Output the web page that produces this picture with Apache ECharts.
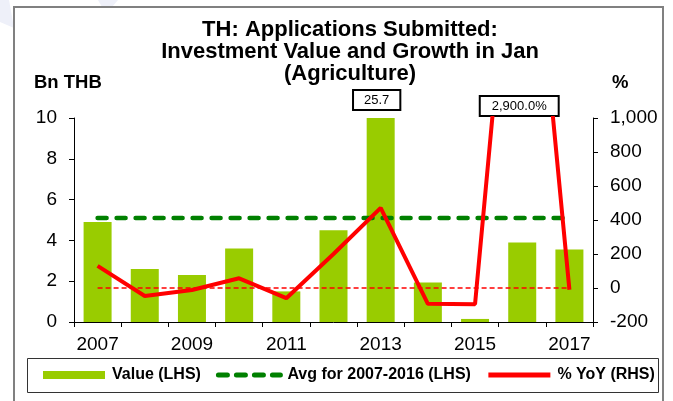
<!DOCTYPE html>
<html>
<head>
<meta charset="utf-8">
<script src="https://cdn.jsdelivr.net/npm/echarts@6/dist/echarts.min.js"></script>
<style>
  html, body { margin: 0; padding: 0; background: #fff; }
  #chart { width: 673px; height: 401px; }
</style>
</head>
<body>
<div id="chart"></div>
<script>
  // 年份
  var years = ['2007', '2008', '2009', '2010', '2011', '2012', '2013', '2014', '2015', '2016', '2017'];
  // Value (LHS), Bn THB
  var valueLHS = [4.9, 2.6, 2.3, 3.6, 1.5, 4.5, 25.7, 1.94, 0.15, 3.9, 3.55];
  // Avg for 2007-2016 (LHS)
  var avgLHS = [5.1, 5.1, 5.1, 5.1, 5.1, 5.1, 5.1, 5.1, 5.1, 5.1, 5.1];
  // % YoY (RHS)
  var yoyRHS = [130, -47, -12, 57, -60, 200, 471, -93, -95, 2900, -10];
  // zero reference line (RHS)
  var zeroRHS = [0, 0, 0, 0, 0, 0, 0, 0, 0, 0, 0];
  var leftTicks = { min: 0, max: 10, interval: 2 };
  var rightTicks = { min: -200, max: 1000, interval: 200 };

  var font = '"Liberation Sans", Arial, sans-serif';
  var myChart = echarts.init(document.getElementById('chart'));

  // legend: hide the symbol that line series put in the middle of the icon
  var noSymbol = { color: 'rgba(0,0,0,0)', borderWidth: 0 };

  myChart.setOption({
    backgroundColor: '#fff',
    animation: false,
    textStyle: { fontFamily: font, color: '#000' },
    title: [{
      text: 'TH: Applications Submitted:\nInvestment Value and Growth in Jan\n(Agriculture)',
      left: 350,
      textAlign: 'center',
      top: 19,
      padding: 0,
      textStyle: { fontSize: 22, fontWeight: 'bold', lineHeight: 22, color: '#000', fontFamily: font }
    }, {
      text: 'Bn THB',
      left: 34,
      top: 73,
      padding: 0,
      textStyle: { fontSize: 18.5, fontWeight: 'bold', color: '#000', fontFamily: font }
    }, {
      text: '%',
      left: 612,
      top: 73,
      padding: 0,
      textStyle: { fontSize: 18.5, fontWeight: 'bold', color: '#000', fontFamily: font }
    }],
    graphic: [{
      type: 'polygon',
      shape: { points: [[0, 0], [9, 0], [14, 28], [0, 22]] },
      style: { fill: '#eef0f9' },
      silent: true,
      z: -10
    }, {
      type: 'polygon',
      shape: { points: [[98, 0], [118, 0], [112, 7], [102, 7]] },
      style: { fill: '#eef0f9' },
      silent: true,
      z: -10
    }, {
      type: 'rect',
      shape: { x: 14, y: 7, width: 649, height: 430 },
      style: { fill: null, stroke: '#808080', lineWidth: 2 },
      silent: true
    }, {
      type: 'rect',
      shape: { x: 27.5, y: 358.5, width: 631, height: 34 },
      style: { fill: null, stroke: '#333', lineWidth: 1 },
      silent: true
    }],
    legend: {
      data: [
        { name: 'Value (LHS)', icon: 'rect' },
        { name: 'Avg for 2007-2016 (LHS)', itemStyle: noSymbol, lineStyle: { width: 5, type: [9, 9], cap: 'round' } },
        { name: '% YoY (RHS)', itemStyle: noSymbol, lineStyle: { width: 5 } }
      ],
      left: 43,
      top: 367,
      padding: 0,
      itemGap: 15,
      itemWidth: 62,
      itemHeight: 8,
      textStyle: { fontSize: 16, fontWeight: 'bold', color: '#000', fontFamily: font, padding: [0, 0, 0, 2] }
    },
    grid: {
      left: 74,
      right: 80,
      top: 118,
      height: 204,
      containLabel: false
    },
    xAxis: [{
      type: 'category',
      data: years,
      boundaryGap: true,
      axisLine: { show: true, lineStyle: { color: '#000', width: 1 } },
      axisTick: { show: true, interval: 0, length: 5, lineStyle: { color: '#000' } },
      axisLabel: { interval: 1, margin: 13, fontSize: 19, color: '#000', fontFamily: font },
      splitLine: { show: false }
    }],
    yAxis: [{
      type: 'value',
      min: leftTicks.min,
      max: leftTicks.max,
      interval: leftTicks.interval,
      axisLine: { show: true, lineStyle: { color: '#000', width: 1 } },
      axisTick: { show: true, length: 5, lineStyle: { color: '#000' } },
      axisLabel: { margin: 17, fontSize: 19, color: '#000', fontFamily: font },
      splitLine: { show: false }
    }, {
      type: 'value',
      position: 'right',
      min: rightTicks.min,
      max: rightTicks.max,
      interval: rightTicks.interval,
      axisLine: { show: true, lineStyle: { color: '#000', width: 1 } },
      axisTick: { show: true, length: 5, lineStyle: { color: '#000' } },
      axisLabel: {
        margin: 17, fontSize: 19, color: '#000', fontFamily: font,
        formatter: function (v) { return v.toLocaleString('en-US'); }
      },
      splitLine: { show: false }
    }],
    series: [{
      name: 'Value (LHS)',
      type: 'bar',
      data: valueLHS,
      barWidth: 28,
      clip: true,
      itemStyle: { color: '#99CC00' },
      z: 2,
      markPoint: {
        symbol: 'rect',
        symbolSize: 1,
        itemStyle: { color: 'rgba(0,0,0,0)' },
        data: [{
          coord: [6, leftTicks.max],
          value: valueLHS[6],
          label: {
            show: true,
            position: 'inside',
            offset: [-4, -18],
            formatter: String(valueLHS[6]),
            fontSize: 13,
            color: '#000',
            fontFamily: font,
            backgroundColor: '#fff',
            borderColor: '#000',
            borderWidth: 2,
            padding: [3, 10, 2, 10]
          }
        }]
      }
    }, {
      name: 'zero',
      type: 'line',
      yAxisIndex: 1,
      data: zeroRHS,
      symbol: 'none',
      lineStyle: { color: '#FF0000', width: 1.5, type: [5, 3] },
      z: 3
    }, {
      name: 'Avg for 2007-2016 (LHS)',
      type: 'line',
      data: avgLHS,
      symbol: 'none',
      itemStyle: { color: '#008000' },
      lineStyle: { color: '#008000', width: 4.5, type: [9, 10], cap: 'round' },
      z: 4
    }, {
      name: '% YoY (RHS)',
      type: 'line',
      yAxisIndex: 1,
      data: yoyRHS,
      symbol: 'none',
      clip: true,
      itemStyle: { color: '#FF0000' },
      lineStyle: { color: '#FF0000', width: 4 },
      z: 5,
      markPoint: {
        symbol: 'rect',
        symbolSize: 1,
        itemStyle: { color: 'rgba(0,0,0,0)' },
        data: [{
          coord: [9, rightTicks.max],
          value: yoyRHS[9],
          label: {
            show: true,
            position: 'inside',
            offset: [-3, -12],
            formatter: yoyRHS[9].toLocaleString('en-US', { minimumFractionDigits: 1 }) + '%',
            fontSize: 13,
            color: '#000',
            fontFamily: font,
            backgroundColor: '#fff',
            borderColor: '#000',
            borderWidth: 2,
            padding: [3, 11, 2, 11]
          }
        }]
      }
    }]
  });
</script>
</body>
</html>
